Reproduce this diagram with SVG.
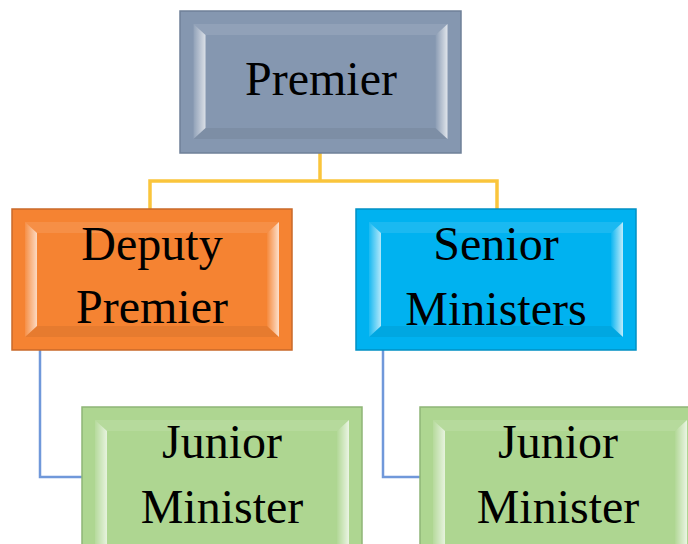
<svg xmlns="http://www.w3.org/2000/svg" width="688" height="544" viewBox="0 0 688 544">
<style>
.box{stroke-width:1.5}
.gray{fill:#8597B0;stroke:#6F8098}
.orange{fill:#F58332;stroke:#C9692A}
.blue{fill:#00B2F0;stroke:#0090C4}
.green{fill:#AED691;stroke:#8FB577}
.lbl{font-family:"Liberation Serif","Times New Roman",serif;font-size:48px;fill:#000;text-anchor:middle}
.c1{fill:none;stroke:#FAC53C;stroke-width:3.5}
.c2{fill:none;stroke:#7098DA;stroke-width:2.5}
.bt{fill:#fff;fill-opacity:0.1}
.bb{fill:#000;fill-opacity:0.06}
</style>
<defs>
<linearGradient id="gL" x1="0" y1="0" x2="1" y2="0">
<stop offset="0" stop-color="#fff" stop-opacity="0.1"/>
<stop offset="1" stop-color="#fff" stop-opacity="0.7"/>
</linearGradient>
<linearGradient id="gR" x1="0" y1="0" x2="1" y2="0">
<stop offset="0" stop-color="#fff" stop-opacity="0.05"/>
<stop offset="1" stop-color="#fff" stop-opacity="0.75"/>
</linearGradient>
<g id="bevel">
<polygon class="bt" points="13,13 267,13 255,24 25,24"/>
<polygon class="bb" points="13,128 25,117 255,117 267,128"/>
<polygon points="13,13 25,24 25,117 13,128" fill="url(#gL)"/>
<polygon points="267,13 255,24 255,117 267,128" fill="url(#gR)"/>
</g>
<g id="bevelOpen">
<polygon class="bt" points="13,13 267,13 255,24 25,24"/>
<polygon points="13,13 25,24 25,160 13,160" fill="url(#gL)"/>
<polygon points="267,13 255,24 255,160 267,160" fill="url(#gR)"/>
</g>
</defs>
<g id="connectors">
<polyline class="c1" points="320,153 320,181"/>
<polyline class="c1" points="150,209 150,181 497,181 497,209"/>
<polyline class="c2" points="40,350 40,477 82,477"/>
<polyline class="c2" points="383,350 383,477 420,477"/>
</g>
<g id="premier">
<rect class="box gray" x="180" y="11" width="281" height="142"/>
<use href="#bevel" x="180.5" y="11"/>
<text class="lbl" x="321" y="95">Premier</text>
</g>
<g id="deputy">
<rect class="box orange" x="12" y="209" width="280" height="141"/>
<use href="#bevel" x="12" y="209"/>
<text class="lbl" x="152" y="260">Deputy</text>
<text class="lbl" x="152" y="323">Premier</text>
</g>
<g id="senior">
<rect class="box blue" x="356" y="209" width="280" height="141"/>
<use href="#bevel" x="356" y="209"/>
<text class="lbl" x="496" y="260">Senior</text>
<text class="lbl" x="496" y="325">Ministers</text>
</g>
<g id="junior1">
<rect class="box green" x="82" y="407" width="280" height="160"/>
<use href="#bevelOpen" x="82" y="407"/>
<text class="lbl" x="222" y="458">Junior</text>
<text class="lbl" x="222" y="523">Minister</text>
</g>
<g id="junior2">
<rect class="box green" x="420" y="407" width="280" height="160"/>
<use href="#bevelOpen" x="420" y="407"/>
<text class="lbl" x="558" y="458">Junior</text>
<text class="lbl" x="558" y="523">Minister</text>
</g>
</svg>
